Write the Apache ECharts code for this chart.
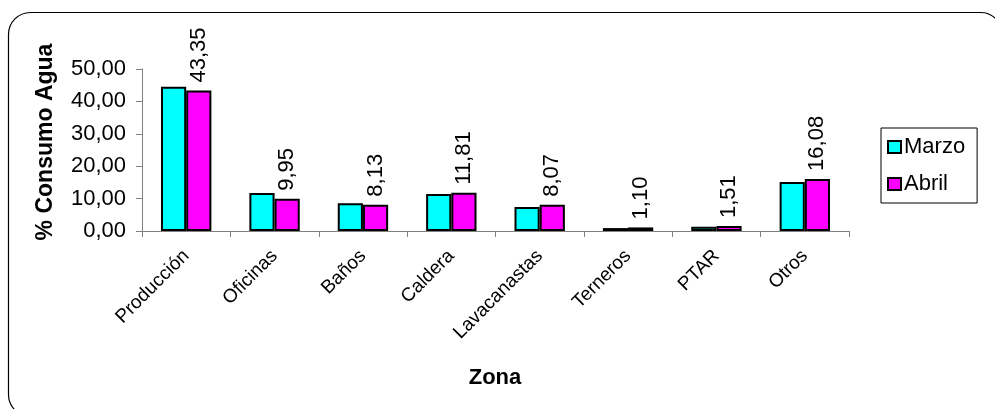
<!DOCTYPE html>
<html>
<head>
<meta charset="utf-8">
<script src="https://cdn.jsdelivr.net/npm/echarts@6/dist/echarts.min.js"></script>
<style>
html,body{margin:0;padding:0;background:#fff;}
#c{width:995px;height:409px;}
</style>
</head>
<body>
<div id="c"></div>
<script>
const categories = ['Producción','Oficinas','Baños','Caldera','Lavacanastas','Terneros','PTAR','Otros'];
const marzo = [44.5, 11.7, 8.6, 11.4, 7.4, 0.9, 1.3, 15.1];
const abril = [43.35, 9.95, 8.13, 11.81, 8.07, 1.10, 1.51, 16.08];
const seriesNames = ['Marzo','Abril'];
const yTitle = '% Consumo Agua';
const xTitle = 'Zona';

const fmt = v => Number(v).toFixed(2).replace('.', ',');
const FONT = '"Liberation Sans", Arial, sans-serif';

const chart = echarts.init(document.getElementById('c'), null, {renderer:'canvas'});
chart.setOption({
  animation: false,
  backgroundColor: '#fff',
  textStyle: {fontFamily: FONT},
  grid: {left: 142, right: 146, top: 69, bottom: 178, containLabel: false},
  legend: {
    orient: 'vertical',
    left: 881, top: 128,
    width: 98,
    data: seriesNames,
    itemWidth: 13, itemHeight: 12,
    itemGap: 15,
    padding: [8, 12, 8, 6],
    borderColor: '#000', borderWidth: 1,
    backgroundColor: '#fff',
    textStyle: {fontSize: 22, color: '#000', fontFamily: FONT, padding: [0,0,0,-2]},
    icon: 'rect'
  },
  xAxis: {
    type: 'category',
    data: categories,
    axisLine: {lineStyle: {color: '#808080', width: 1}},
    axisTick: {show: true, inside: false, length: 6, alignWithLabel: false, lineStyle: {color: '#808080'}},
    axisLabel: {rotate: 45, fontSize: 19, color: '#000', margin: 22, fontFamily: FONT, interval: 0},
    splitLine: {show: false}
  },
  yAxis: {
    type: 'value',
    min: 0, max: 50, interval: 10,
    axisLine: {show: true, lineStyle: {color: '#808080', width: 1}},
    axisTick: {show: true, inside: false, length: 6, lineStyle: {color: '#808080'}},
    axisLabel: {fontSize: 22, color: '#000', margin: 16, formatter: fmt, fontFamily: FONT},
    splitLine: {show: false}
  },
  series: [
    {
      name: seriesNames[0], type: 'bar', data: marzo,
      barGap: '0%', barCategoryGap: '43%',
      itemStyle: {color: '#00FFFF', borderColor: '#000', borderWidth: 2}
    },
    {
      name: seriesNames[1], type: 'bar', data: abril,
      barGap: '0%', barCategoryGap: '43%',
      itemStyle: {color: '#FF00FF', borderColor: '#000', borderWidth: 2},
      label: {
        show: true, position: 'top', distance: 8, rotate: 90,
        align: 'left', verticalAlign: 'middle',
        fontSize: 22, color: '#000', fontFamily: FONT,
        formatter: p => fmt(p.value)
      }
    }
  ],
  graphic: [
    {type: 'rect', shape: {x: 8.5, y: 12.5, width: 994, height: 404, r: 22}, style: {fill: 'none', stroke: '#000', lineWidth: 1.2}, z: 100, silent: true},
    {type: 'text', x: 46, y: 142, rotation: Math.PI/2, style: {text: yTitle, font: 'bold 23px ' + FONT, fill: '#000', align: 'center', verticalAlign: 'middle'}},
    {type: 'text', x: 495, y: 378, style: {text: xTitle, font: 'bold 22px ' + FONT, fill: '#000', align: 'center', verticalAlign: 'middle'}}
  ]
});
</script>
</body>
</html>
